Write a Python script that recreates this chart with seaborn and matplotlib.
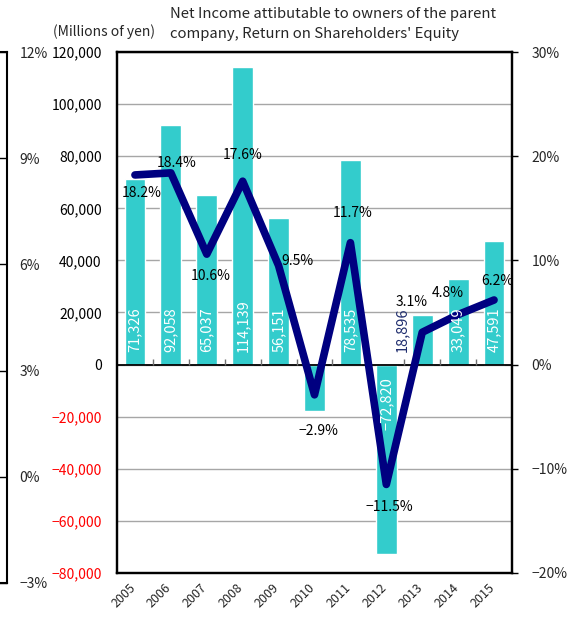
import numpy as np
import pandas as pd
import matplotlib
matplotlib.use("Agg")
import matplotlib.pyplot as plt
import matplotlib.transforms as mtransforms
import seaborn as sns

# ---------------- data ----------------
years = ["2005", "2006", "2007", "2008", "2009", "2010", "2011", "2012", "2013", "2014", "2015"]
net_income = [71326, 92058, 65037, 114139, 56151, -17700, 78535, -72820, 18896, 33049, 47591]
roe = [18.2, 18.4, 10.6, 17.6, 9.5, -2.9, 11.7, -11.5, 3.1, 4.8, 6.2]
bar_labels = ["71,326", "92,058", "65,037", "114,139", "56,151", "", "78,535",
              "\u221272,820", "18,896", "33,049", "47,591"]
left_ticks = [120000, 100000, 80000, 60000, 40000, 20000, 0, -20000, -40000, -60000, -80000]
right_ticks = [30, 20, 10, 0, -10, -20]
neighbor_ticks = [12, 9, 6, 3, 0, -3]
title_lines = ["Net Income attibutable to owners of the parent",
               "company, Return on Shareholders' Equity"]
unit_label = "(Millions of yen)"

# ---------------- style ----------------
# pixel offsets (dx, dy-up) of the ROE labels from their points
roe_offsets = [(7, -18), (6, 10), (4, -22), (0, 26), (19, 5), (4, -36),
               (2, 30), (3, -23), (-11, 30), (-10, 22), (3, 19)]
BAR = "#33CCCC"
LINE = "#000080"

sns.set_theme(style="white")
plt.rcParams["font.family"] = ["Noto Sans CJK JP", "DejaVu Sans"]

W, H = 577, 624
fig = plt.figure(figsize=(W / 100, H / 100), dpi=100)


def rect(x0, y0, x1, y1):
    return [x0 / W, 1 - y1 / H, (x1 - x0) / W, (y1 - y0) / H]


def minus(s):
    return s.replace("-", "\u2212")


# neighbouring (cropped) chart on the far left
ax0 = fig.add_axes(rect(-100, 52, 7, 583))
ax0.set_ylim(-3, 12)
ax0.set_xticks([])
ax0.set_yticks(neighbor_ticks)
ax0.set_yticklabels([minus(f"{t}%") for t in neighbor_ticks])
ax0.yaxis.tick_right()
ax0.tick_params(axis="y", direction="in", length=6, width=1, color="black",
                pad=9, labelsize=10, right=True, left=False)
for sp in ax0.spines.values():
    sp.set_color("black")
    sp.set_linewidth(1.5)

# main chart
ax = fig.add_axes(rect(117, 52, 512, 573))
df = pd.DataFrame({"year": years, "net_income": net_income})
sns.barplot(data=df, x="year", y="net_income", color=BAR, saturation=1,
            width=0.58, ax=ax, zorder=2)
ax.set_xlim(-0.5, len(years) - 0.5)
ax.set_ylim(-80000, 120000)
ax.set_yticks(left_ticks)
ax.set_yticklabels([minus(f"{t:,}") for t in left_ticks])
for t, lab in zip(left_ticks, ax.get_yticklabels()):
    lab.set_color("#FF0000" if t < 0 else "black")
ax.yaxis.grid(True, color="#A6A6A6", lw=1)
ax.set_axisbelow(True)
ax.axhline(0, color="black", lw=1.3, zorder=3)
ax.vlines(np.arange(len(years) - 1) + 0.5, 0, 2200, color="#707070", lw=1, zorder=3)
ax.tick_params(axis="y", length=0, pad=11, labelsize=10)
ax.set_xticks(range(len(years)))
ax.set_xticklabels(years, rotation=45, ha="right", fontsize=9)
ax.tick_params(axis="x", length=0, pad=6)
shift = mtransforms.ScaledTranslation(3 / 100, 0, fig.dpi_scale_trans)
for lab in ax.get_xticklabels():
    lab.set_transform(lab.get_transform() + shift)
ax.set_xlabel("")
ax.set_ylabel("")
for sp in ax.spines.values():
    sp.set_color("black")
    sp.set_linewidth(1.6)

# ROE line
ax2 = ax.twinx()
sns.lineplot(x=np.arange(len(years)), y=roe, ax=ax2, color=LINE, lw=5.5, zorder=4)
ax2.set_ylim(-20, 30)
ax2.set_yticks(right_ticks)
ax2.set_yticklabels([minus(f"{t}%") for t in right_ticks])
ax2.tick_params(axis="y", length=4, width=1, color="black", pad=10, labelsize=10, right=True)
ax2.set_ylabel("")
for sp in ax2.spines.values():
    sp.set_color("black")
    sp.set_linewidth(1.6)

for i, (v, (dx, dy)) in enumerate(zip(roe, roe_offsets)):
    ax2.annotate(minus(f"{v}%"), (i, v), xytext=(dx, dy), textcoords="offset pixels",
                 ha="center", va="center", fontsize=10, color="black", zorder=6)

# bar value labels (drawn on ax2 so they sit above the line)
for i, (v, lab) in enumerate(zip(net_income, bar_labels)):
    if not lab:
        continue
    if abs(v) >= 25000:
        ax2.text(i, 5000 if v > 0 else -5000, lab, transform=ax.transData, rotation=90,
                 ha="center", va="bottom" if v > 0 else "top", color="white",
                 fontsize=10.5, zorder=7)
    else:
        ax2.text(i - 0.57, 5000, lab, transform=ax.transData, rotation=90,
                 ha="center", va="bottom", color="#1F2D6E", fontsize=10.5, zorder=7)

# titles
fig.text(104 / W, 1 - 32 / H, unit_label, ha="center", va="center", fontsize=10)
fig.text(170 / W, 1 - 14 / H, title_lines[0], ha="left", va="center", fontsize=10.7)
fig.text(170 / W, 1 - 34 / H, title_lines[1], ha="left", va="center", fontsize=10.7)

fig.savefig("out.png", dpi=100)
